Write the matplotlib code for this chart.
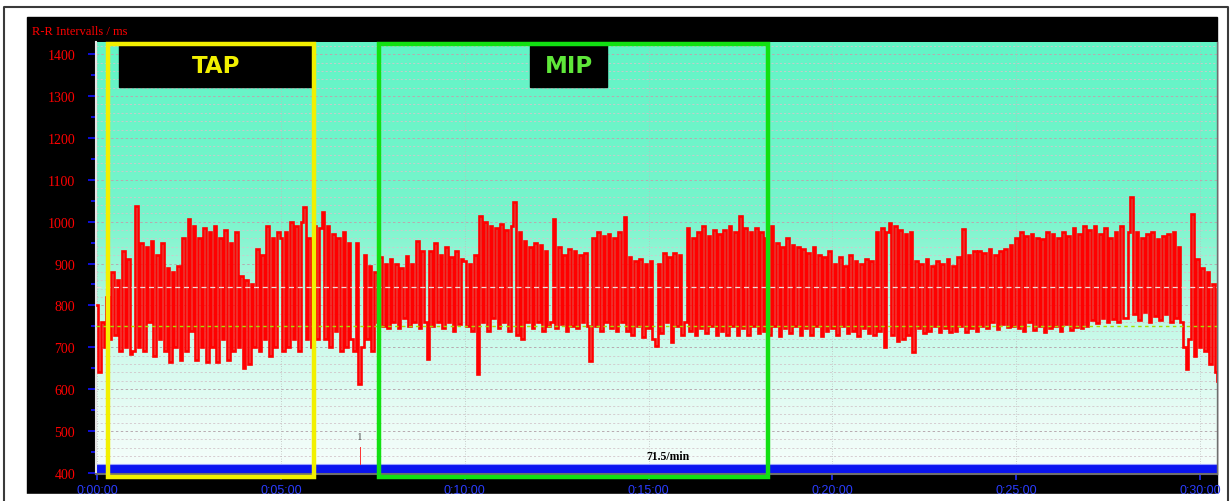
#!/usr/bin/env python3
"""R-R interval tachogram with TAP / MIP phases marked."""
import matplotlib

matplotlib.use("Agg")
import matplotlib.pyplot as plt
import numpy as np
from matplotlib.colors import LinearSegmentedColormap
from matplotlib.patches import Rectangle
from matplotlib.ticker import FuncFormatter, MultipleLocator

SAMPLES_PER_MIN = 14

# R-R intervals (ms), one row per minute
rr_ms = [
    800, 640, 760, 700, 820, 720, 880, 730, 860, 690, 930, 700, 910, 685,
    690, 1038, 700, 950, 690, 940, 760, 955, 680, 920, 720, 950, 690, 890,
    665, 880, 700, 895, 670, 960, 690, 1006, 740, 990, 670, 960, 700, 985,
    665, 975, 700, 990, 665, 960, 720, 980, 670, 950, 690, 975, 700, 870,
    650, 860, 660, 850, 700, 935, 690, 920, 720, 990, 680, 960, 700, 975,
    960, 690, 975, 700, 1000, 720, 990, 690, 1000, 1034, 720, 960, 700, 990,
    720, 985, 1022, 720, 990, 700, 970, 740, 960, 690, 975, 700, 950, 720,
    690, 950, 612, 700, 920, 720, 895, 690, 880, 760, 915, 750, 900, 745,
    910, 760, 900, 745, 890, 770, 919, 750, 900, 760, 955, 745, 930, 760,
    672, 930, 750, 950, 760, 920, 745, 940, 760, 915, 740, 930, 755, 910,
    905, 750, 900, 740, 920, 636, 1014, 760, 1000, 740, 990, 770, 985, 745,
    995, 760, 980, 740, 990, 1046, 730, 975, 720, 955, 760, 940, 745, 950,
    760, 945, 740, 930, 750, 760, 1006, 745, 940, 755, 920, 740, 935, 750,
    930, 745, 920, 760, 925, 750, 668, 960, 750, 975, 740, 965, 760, 970,
    745, 960, 740, 975, 760, 1010, 740, 915, 730, 905, 750, 910, 725, 900,
    745, 905, 720, 704, 900, 735, 925, 760, 915, 712, 925, 750, 920, 730,
    760, 985, 740, 960, 730, 975, 745, 990, 735, 965, 750, 980, 730, 970,
    740, 980, 730, 990, 750, 975, 730, 1014, 745, 985, 730, 975, 750, 985,
    735, 975, 740, 960, 730, 990, 750, 950, 728, 940, 745, 960, 735, 945,
    750, 940, 730, 935, 745, 925, 730, 940, 750, 920, 728, 915, 740, 930,
    745, 900, 730, 915, 750, 895, 735, 920, 740, 905, 728, 900, 745, 910,
    735, 905, 730, 975, 740, 985, 700, 975, 998, 730, 990, 715, 980, 720,
    970, 730, 975, 688, 905, 745, 900, 735, 910, 740, 895, 750, 905, 736,
    900, 745, 910, 736, 895, 740, 915, 750, 982, 736, 920, 745, 930, 740,
    930, 750, 925, 745, 935, 760, 920, 744, 930, 755, 935, 748, 945, 750,
    960, 745, 975, 740, 965, 760, 970, 742, 960, 750, 958, 736, 975, 745,
    970, 750, 960, 740, 975, 755, 965, 742, 985, 748, 970, 745, 990, 750,
    980, 765, 990, 758, 970, 770, 985, 760, 960, 768, 975, 760, 990, 770,
    770, 975, 1058, 780, 975, 765, 960, 785, 970, 760, 975, 775, 958, 765,
    965, 780, 970, 760, 975, 770, 940, 760, 700, 648, 720, 1018, 680, 910,
    700, 890, 690, 880, 660, 850, 640, 620,
]

mean_rr = 845
lower_ref = 751
heart_rate_text = "71.5/min"

# phase windows (minutes) and labels
phases = [("TAP", 0.31, 5.90, 0.60, 5.87), ("MIP", 7.68, 18.24, 11.78, 13.87)]
phase_colors = {"TAP": "#f2f000", "MIP": "#12e012"}
phase_text_colors = {"TAP": "#f2f000", "MIP": "#5fe83a"}

marker_time = 7.15
marker_label = "1"

x_ticks = [0, 5, 10, 15, 20, 25, 30]

XLIM = (-0.027, 30.46)
YLIM = (397.5, 1429)

fig = plt.figure(figsize=(12.32, 5.02), dpi=100, facecolor="white")

# dark panel behind the chart
fig.patches.append(Rectangle((27 / 1232, 7 / 502), 1190 / 1232, 477 / 502,
                             transform=fig.transFigure, color="black", zorder=-5))

ax = fig.add_axes([96 / 1232, 27 / 502, 1121 / 1232, 432 / 502])
ax.set_xlim(*XLIM)
ax.set_ylim(*YLIM)

bg = LinearSegmentedColormap.from_list(
    "bg", [(0.0, "#f6fefb"), (0.12, "#ebfcf6"), (0.3, "#cdfaeb"),
           (0.45, "#a3f7da"), (0.6, "#78f5cc"), (1.0, "#62f4c6")])
ax.imshow(np.linspace(0, 1, 256).reshape(-1, 1), cmap=bg, aspect="auto",
          origin="lower", extent=(*XLIM, *YLIM), zorder=0)

# grid
for v in range(400, 1430, 20):
    major = v % 100 == 0
    ax.axhline(v, color="#b8aab0" if major else "#d2c6cb", lw=0.7 if major else 0.6,
               dashes=(2.5, 2.5), zorder=1)
for t in x_ticks:
    ax.axvline(t, color="#bcbcbc", lw=0.6, dashes=(1, 2), zorder=1)

# bottom band
ax.axhspan(402, 419, color="#0a14f0", zorder=2)
ax.axhline(420.5, color="#9aa0ff", lw=0.8, zorder=2)

time = np.arange(len(rr_ms)) / SAMPLES_PER_MIN
ax.plot(time, rr_ms, color="#ff0000", lw=1.9, drawstyle="steps-mid",
        solid_joinstyle="miter", zorder=3)

ax.axhline(mean_rr, color="#f3d9d9", lw=0.9, dashes=(4, 3), zorder=4)
ax.axhline(lower_ref, color="#a6e000", lw=1.0, dashes=(2.5, 2.5), zorder=4)

ax.plot([marker_time, marker_time], [421, 462], color="#ff3030", lw=0.7, zorder=4)
ax.text(marker_time, 486, marker_label, color="#555555", fontsize=8,
        family="Liberation Serif", ha="center", va="center", zorder=4)
ax.text(15.53, 440, heart_rate_text, color="black", fontsize=8.5, weight="bold",
        family="Liberation Serif", ha="center", va="center", zorder=4)

for name, t0, t1, b0, b1 in phases:
    ax.add_patch(Rectangle((t0, 390), t1 - t0, 1424 - 390, fill=False,
                           edgecolor=phase_colors[name], lw=3.2, clip_on=False, zorder=6))
    ax.add_patch(Rectangle((b0, 1321), b1 - b0, 1426 - 1321, color="black", zorder=5))
    ax.text((b0 + b1) / 2, 1373, name, color=phase_text_colors[name], fontsize=16.5,
            weight="bold", family="DejaVu Sans", ha="center", va="center", zorder=7)

ax.xaxis.set_major_locator(MultipleLocator(5))
ax.xaxis.set_major_formatter(FuncFormatter(lambda v, _: f"0:{int(round(v)):02d}:00"))
ax.yaxis.set_major_locator(MultipleLocator(100))
ax.yaxis.set_minor_locator(MultipleLocator(50))
ax.tick_params(axis="x", length=4, width=1.2, color="#2030ff", labelcolor="#2a3cff",
               labelsize=9, pad=3.5)
ax.tick_params(axis="y", which="major", length=6, width=1.2, color="#1010ff",
               labelcolor="#ff0000", labelsize=10, pad=9)
ax.tick_params(axis="y", which="minor", length=3.5, width=1.2, color="#1010ff")
for label in ax.get_yticklabels():
    label.set_family("Liberation Serif")
for label in ax.get_xticklabels():
    label.set_family("Liberation Sans")

ax.spines["top"].set_visible(False)
ax.spines["left"].set_color("#e4e4e4")
ax.spines["left"].set_linewidth(1.5)
ax.spines["bottom"].set_color("#6e6e6e")
ax.spines["bottom"].set_linewidth(1.5)
ax.spines["right"].set_color("#6e6e6e")
ax.spines["right"].set_linewidth(1.0)

fig.text(32 / 1232, 1 - 32.5 / 502, "R-R Intervalls / ms", color="#ff0000", fontsize=9,
         family="Liberation Serif", ha="left", va="center")

# white strip that cuts the x labels, then outer frame
fig.patches.append(Rectangle((5 / 1232, 0), 1222 / 1232, 7 / 502,
                             transform=fig.transFigure, color="white", zorder=10))
fig.lines.append(plt.Line2D([4 / 1232, 4 / 1232, 1228 / 1232, 1228 / 1232],
                            [0, 1 - 8 / 502, 1 - 8 / 502, 0], transform=fig.transFigure,
                            color="#3a3a3a", lw=1.5, zorder=11))

fig.savefig("out.png", dpi=100, facecolor="white")
